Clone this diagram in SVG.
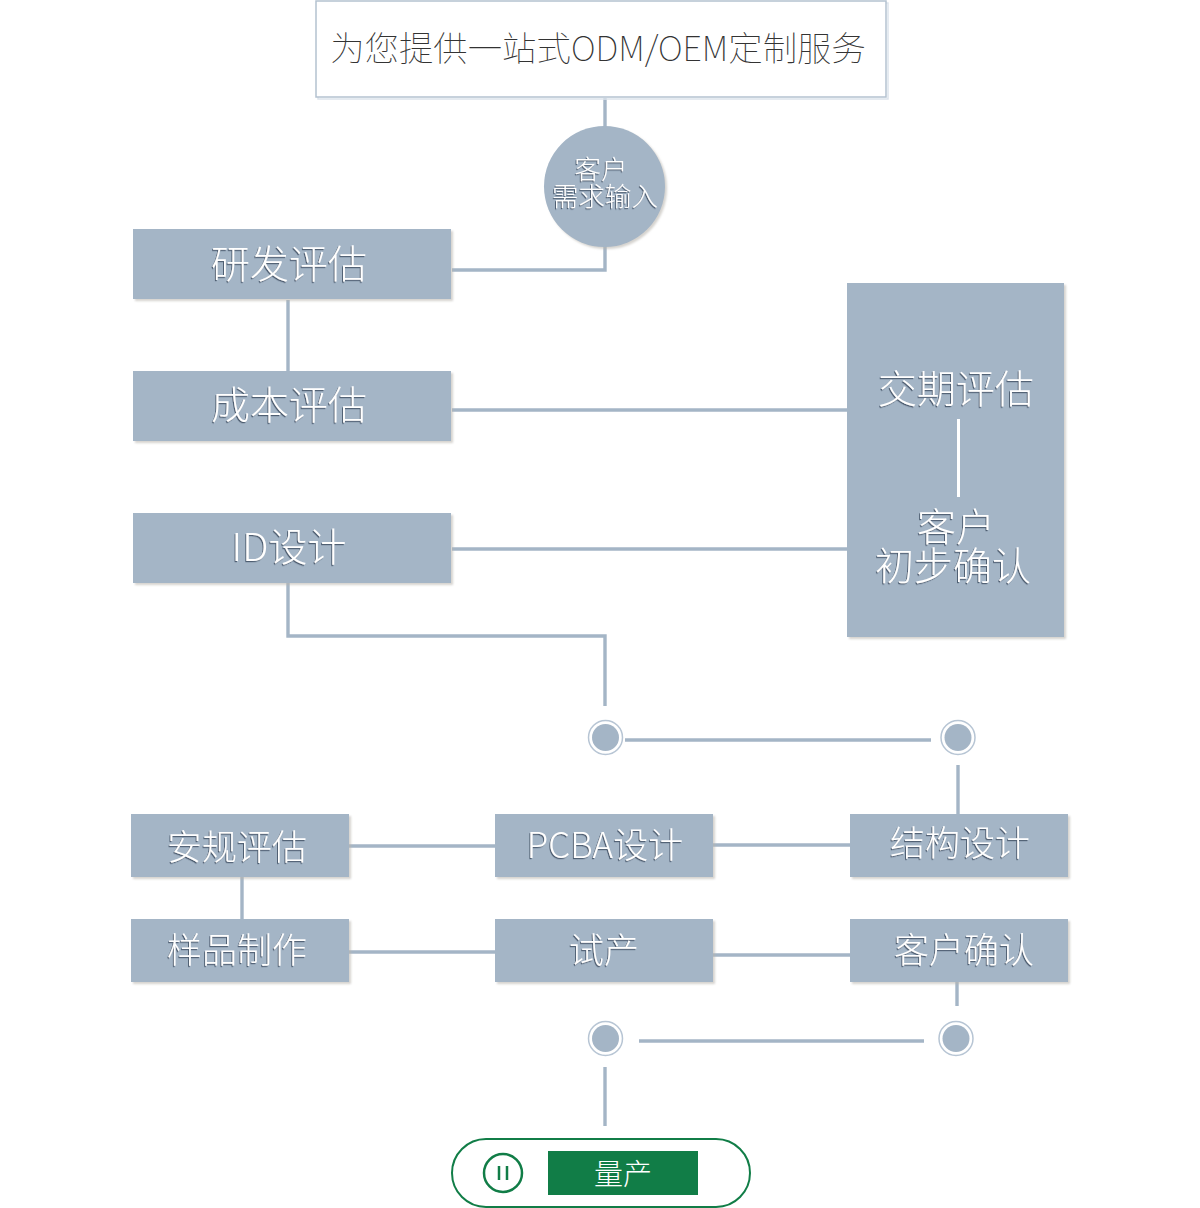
<svg xmlns="http://www.w3.org/2000/svg" width="1200" height="1208" viewBox="0 0 1200 1208">
<defs>
<filter id="emboss" x="-10%" y="-20%" width="120%" height="140%"><feDropShadow dx="-1" dy="1.200" stdDeviation="0.350" flood-color="#4f5f72" flood-opacity="1"/></filter>
<filter id="soft" x="-5%" y="-5%" width="112%" height="112%"><feDropShadow dx="2" dy="2" stdDeviation="0.800" flood-color="#b9b6ae" flood-opacity="0.600"/></filter>
</defs>
<style>
.box{fill:#a4b5c6;filter:url(#soft)}
.lbl{font-family:"Noto Sans CJK SC","Liberation Sans",sans-serif;font-weight:200;fill:#fff;text-anchor:middle;filter:url(#emboss)}
.big{font-size:39px}
.mid{font-size:35px}
.conn{fill:none;stroke:#a4b5c6;stroke-width:3.400}
.ring{fill:#fff;stroke:#b7c5d4;stroke-width:1.500}
.dot{fill:#a4b5c6}
</style>
<g id="connectors">
<path class="conn" d="M605 98V128"/>
<path class="conn" d="M605 246V270H452"/>
<path class="conn" d="M288 300V371"/>
<path class="conn" d="M452 410H847"/>
<path class="conn" d="M452 549H847"/>
<path class="conn" d="M288 583V636H605V706"/>
<path class="conn" d="M625 740H931"/>
<path class="conn" d="M958 765V814"/>
<path class="conn" d="M713 845H850"/>
<path class="conn" d="M349 846H495"/>
<path class="conn" d="M242 877V919"/>
<path class="conn" d="M349 952H495"/>
<path class="conn" d="M713 955H850"/>
<path class="conn" d="M957 982V1006"/>
<path class="conn" d="M639 1041H924"/>
<path class="conn" d="M605 1067V1126"/>
</g>
<g id="title">
<rect x="318" y="3" width="570" height="96" fill="none" stroke="#dde4ec" stroke-width="1.500"/>
<rect x="316" y="1" width="570" height="96" fill="#fff" stroke="#b4c2d0" stroke-width="1.500"/>
<text x="598" y="61" font-family="'Noto Sans CJK SC','Liberation Sans',sans-serif" font-weight="100" font-size="34.400" fill="#333" text-anchor="middle">为您提供一站式ODM/OEM定制服务</text>
</g>
<g id="input">
<circle class="box" cx="604.500" cy="186.500" r="60.500"/>
<text class="lbl" font-size="26.500"><tspan x="601" y="179">客户</tspan><tspan x="605" y="206">需求输入</tspan></text>
</g>
<g id="rd"><rect class="box" x="133" y="229" width="318" height="70"/><text class="lbl big" x="289" y="278">研发评估</text></g>
<g id="cost"><rect class="box" x="133" y="371" width="318" height="70"/><text class="lbl big" x="289" y="419">成本评估</text></g>
<g id="id"><rect class="box" x="133" y="513" width="318" height="70"/><text class="lbl big" x="289" y="561">ID设计</text></g>
<g id="delivery">
<rect class="box" x="847" y="283" width="217" height="354"/>
<text class="lbl big" x="956" y="403">交期评估</text>
<rect x="957" y="419" width="3" height="78" fill="#fff"/>
<text class="lbl big"><tspan x="956" y="541">客户</tspan><tspan x="953" y="580">初步确认</tspan></text>
</g>
<g id="node-a"><circle class="ring" cx="605.500" cy="737.500" r="17"/><circle class="dot" cx="605.500" cy="737.500" r="13.500"/></g>
<g id="node-b"><circle class="ring" cx="958" cy="737.500" r="17"/><circle class="dot" cx="958" cy="737.500" r="13.500"/></g>
<g id="safety"><rect class="box" x="131" y="814" width="218" height="63"/><text class="lbl mid" x="237" y="860">安规评估</text></g>
<g id="pcba"><rect class="box" x="495" y="814" width="218" height="63"/><text class="lbl mid" x="605" y="858">PCBA设计</text></g>
<g id="struct"><rect class="box" x="850" y="814" width="218" height="63"/><text class="lbl mid" x="960" y="856">结构设计</text></g>
<g id="sample"><rect class="box" x="131" y="919" width="218" height="63"/><text class="lbl mid" x="237" y="963">样品制作</text></g>
<g id="trial"><rect class="box" x="495" y="919" width="218" height="63"/><text class="lbl mid" x="604" y="963">试产</text></g>
<g id="confirm"><rect class="box" x="850" y="919" width="218" height="63"/><text class="lbl mid" x="964" y="963">客户确认</text></g>
<g id="node-c"><circle class="ring" cx="605.500" cy="1038.500" r="17"/><circle class="dot" cx="605.500" cy="1038.500" r="13.500"/></g>
<g id="node-d"><circle class="ring" cx="956" cy="1038.500" r="17"/><circle class="dot" cx="956" cy="1038.500" r="13.500"/></g>
<g id="mass">
<rect x="452" y="1139" width="298" height="68" rx="34" fill="#fff" stroke="#117d47" stroke-width="2"/>
<circle cx="503" cy="1173" r="19" fill="none" stroke="#117d47" stroke-width="2.500"/>
<path d="M499 1166V1180M507 1166V1180" stroke="#117d47" stroke-width="2.500" fill="none"/>
<rect x="548" y="1151" width="150" height="44" fill="#117d47"/>
<text x="623" y="1185" font-family="'Noto Sans CJK SC','Liberation Sans',sans-serif" font-weight="300" font-size="29" fill="#fff" text-anchor="middle">量产</text>
</g>
</svg>
